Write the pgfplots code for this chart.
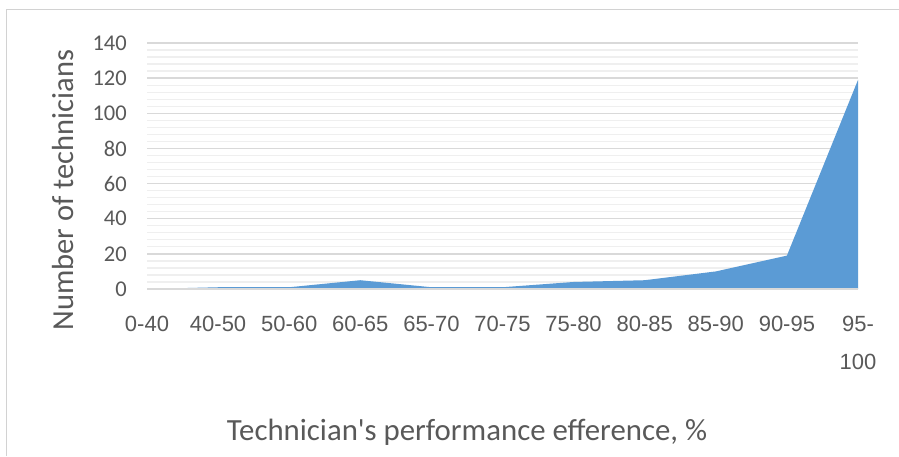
\documentclass[border=0pt]{standalone}
\usepackage{pgfplots}
\pgfplotsset{compat=1.18}
\usepackage{fontspec}
\setmainfont{Carlito}
\newfontfamily\arialfont{Liberation Sans}
\definecolor{areablue}{HTML}{5B9BD5}
\definecolor{txtgray}{HTML}{595959}
\definecolor{majgrid}{HTML}{D9D9D9}
\definecolor{mingrid}{HTML}{EFEFEF}
\begin{document}
\begin{tikzpicture}[x=1pt,y=1pt]
\useasboundingbox (0,0) rectangle (899,456);
\fill[white] (0,0) rectangle (899,456);
\draw[gray!35, line width=1pt] (6,0) -- (6,446) -- (905,446);
\begin{axis}[
  at={(147pt,167pt)}, anchor=south west,
  scale only axis, width=711pt, height=246pt,
  xmin=0, xmax=10, ymin=0, ymax=140,
  xtick={0,...,10},
  xticklabels={0-40,40-50,50-60,60-65,65-70,70-75,75-80,80-85,85-90,90-95,{95-\\[12pt]100}},
  ytick={0,20,...,140},
  minor ytick={0,4,...,140},
  major tick length=0pt, minor tick length=0pt,
  axis line style={draw=none},
  axis x line*=bottom, axis y line*=left,
  ymajorgrids, yminorgrids,
  major grid style={majgrid, line width=1.3pt},
  minor grid style={mingrid, line width=1.3pt},
  /pgf/number format/assume math mode=true,
  yticklabel style={font=\fontsize{22.5}{26}\selectfont, text=txtgray, anchor=east, inner sep=0pt, xshift=-20pt},
  xticklabel style={font=\arialfont\fontsize{22}{26}\selectfont, text=txtgray, anchor=north, inner sep=0pt, yshift=-27pt, align=center},
  xlabel={Technician\textquotesingle s performance efference, \%},
  ylabel={Number of technicians},
  xlabel style={font=\fontsize{30.8}{36}\selectfont, text=txtgray, at={(axis description cs:0.450,-0.614)}, anchor=base, inner sep=0pt},
  ylabel style={font=\fontsize{30.5}{36}\selectfont, text=txtgray, at={(axis description cs:-0.104,0.402)}, anchor=base, inner sep=0pt},
  clip=false,
]
\addplot[fill=areablue, draw=none] coordinates {
(0,0) (1,1) (2,1) (3,5) (4,1) (5,1) (6,4) (7,5) (8,10) (9,19) (10,119)
} \closedcycle;
\draw[majgrid, line width=1.5pt] (axis cs:0,0) -- (axis cs:10,0);
\end{axis}
\end{tikzpicture}
\end{document}
